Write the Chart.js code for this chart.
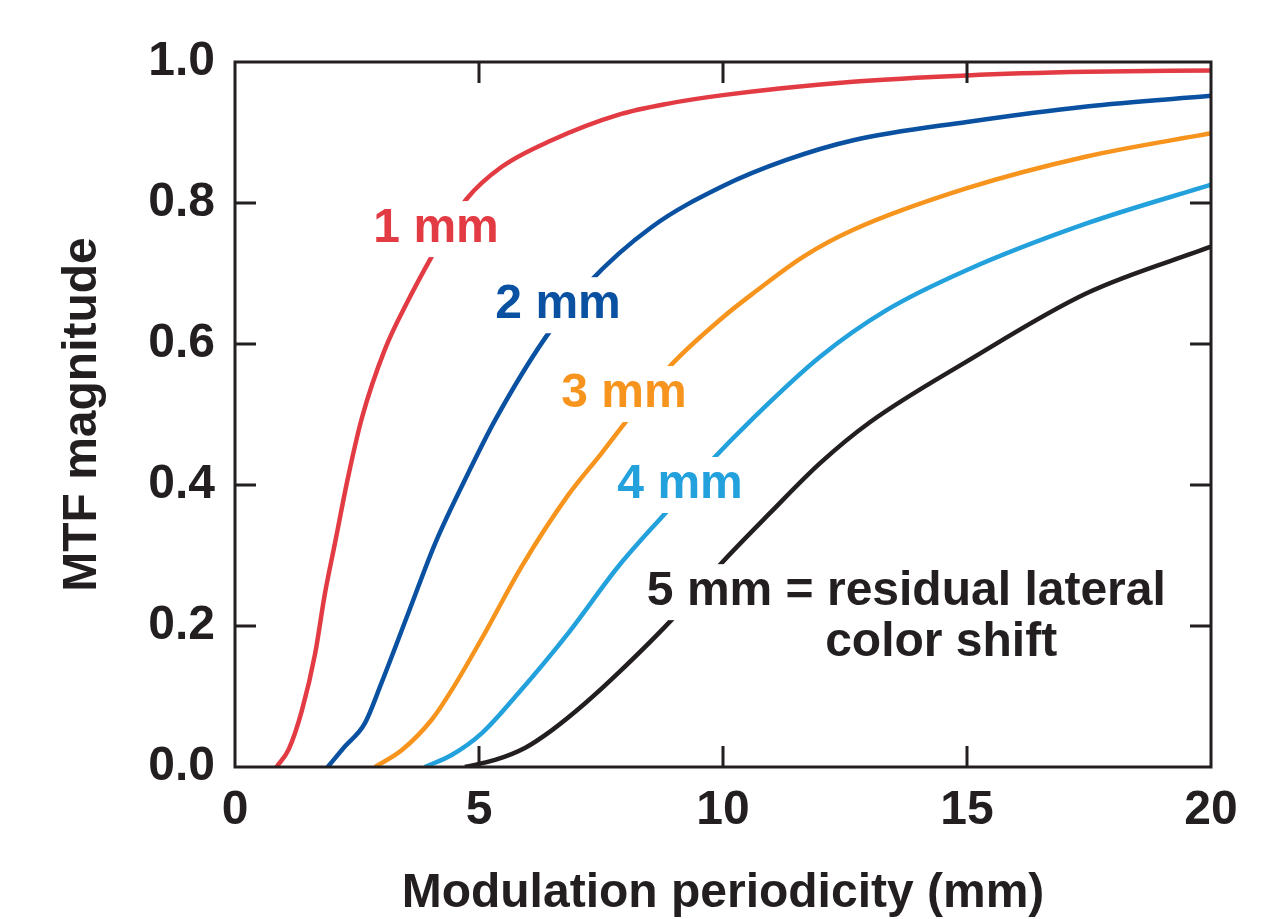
<!DOCTYPE html>
<html>
<head>
<meta charset="utf-8">
<script src="https://cdn.jsdelivr.net/npm/chart.js@4.4.1/dist/chart.umd.min.js"></script>
<style>
  body { margin: 0; background: #fff; }
  #wrap { width: 1269px; height: 919px; }
</style>
</head>
<body>
<div id="wrap"><canvas id="mtfChart" width="1269" height="919"></canvas></div>
<script>
// values: modulation periodicity (mm) vs MTF magnitude
const seriesNames = ['1 mm', '2 mm', '3 mm', '4 mm', '5 mm'];

const period1mm = [0.85, 1.1, 1.37, 1.64, 1.84, 2.05, 2.32, 2.6, 3.07, 3.55, 4.03, 4.4, 4.75, 5.46, 6.49, 7.85, 8.88, 10.0, 12.66, 15.0, 17.45, 20.0];
const mtf1mm    = [0.0, 0.025, 0.08, 0.16, 0.245, 0.318, 0.412, 0.495, 0.592, 0.662, 0.724, 0.768, 0.806, 0.851, 0.889, 0.925, 0.941, 0.953, 0.972, 0.981, 0.986, 0.988];

const period2mm = [1.9, 2.25, 2.66, 3.0, 3.55, 4.1, 4.78, 5.33, 6.35, 7.24, 8.54, 10.0, 11.3, 12.67, 15.0, 17.45, 20.0];
const mtf2mm    = [0.0, 0.029, 0.062, 0.119, 0.218, 0.317, 0.417, 0.492, 0.608, 0.686, 0.766, 0.824, 0.861, 0.889, 0.915, 0.937, 0.952];

const period3mm = [2.87, 3.42, 4.03, 4.44, 5.12, 5.87, 6.83, 7.51, 7.99, 8.88, 10.0, 10.62, 11.65, 12.67, 15.0, 17.45, 20.0];
const mtf3mm    = [0.0, 0.024, 0.067, 0.109, 0.19, 0.284, 0.386, 0.445, 0.488, 0.566, 0.638, 0.672, 0.724, 0.762, 0.821, 0.866, 0.899];

const period4mm = [3.89, 4.44, 5.06, 5.81, 6.83, 7.85, 8.88, 9.77, 10.62, 11.99, 13.35, 15.0, 17.45, 20.0];
const mtf4mm    = [0.0, 0.017, 0.048, 0.105, 0.19, 0.284, 0.365, 0.435, 0.495, 0.582, 0.648, 0.705, 0.771, 0.826];

const period5mm = [4.71, 5.33, 5.94, 6.49, 7.17, 7.85, 8.95, 9.94, 10.96, 11.99, 13.01, 14.99, 17.45, 20.0];
const mtf5mm    = [0.0, 0.01, 0.027, 0.052, 0.09, 0.133, 0.209, 0.287, 0.36, 0.431, 0.489, 0.575, 0.672, 0.738];

const xTickValues = [0, 5, 10, 15, 20];
const yTickValues = [0, 0.2, 0.4, 0.6, 0.8, 1.0];

const lineColors = ['#e23b43', '#0a51a1', '#f7941e', '#23a1dc', '#231f20'];
const ink = '#231f20';
const fontFamily = "'Liberation Sans', Arial, Helvetica, sans-serif";

// in-plot curve labels (text, anchor in data units, alignment, colour)
const curveNotes = [
    { text: '1 mm', x: 4.12, y: 0.763, align: 'center', color: lineColors[0] },
    { text: '2 mm', x: 6.62, y: 0.655, align: 'center', color: lineColors[1] },
    { text: '3 mm', x: 7.97, y: 0.529, align: 'center', color: lineColors[2] },
    { text: '4 mm', x: 9.12, y: 0.400, align: 'center', color: lineColors[3] },
    { text: '5 mm = residual lateral', x: 8.44, y: 0.248, align: 'left', color: lineColors[4] },
    { text: 'color shift', x: 14.47, y: 0.176, align: 'center', color: lineColors[4] }
];

function toPoints(xs, ys) {
    return xs.map((x, i) => ({ x: x, y: ys[i] }));
}

const allSeries = [
    toPoints(period1mm, mtf1mm),
    toPoints(period2mm, mtf2mm),
    toPoints(period3mm, mtf3mm),
    toPoints(period4mm, mtf4mm),
    toPoints(period5mm, mtf5mm)
];

// frame box plus inward tick marks on all four sides
const frameTicks = {
    id: 'frameTicks',
    afterDatasetsDraw(chart) {
        const { ctx, chartArea: a, scales: { x, y } } = chart;
        const len = 21;
        ctx.save();
        ctx.strokeStyle = ink;
        ctx.lineWidth = 3;
        ctx.beginPath();
        xTickValues.slice(1, -1).forEach(v => {
            const px = x.getPixelForValue(v);
            ctx.moveTo(px, a.bottom); ctx.lineTo(px, a.bottom - len);
            ctx.moveTo(px, a.top); ctx.lineTo(px, a.top + len);
        });
        yTickValues.slice(1, -1).forEach(v => {
            const py = y.getPixelForValue(v);
            ctx.moveTo(a.left, py); ctx.lineTo(a.left + len, py);
            ctx.moveTo(a.right, py); ctx.lineTo(a.right - len, py);
        });
        ctx.stroke();
        ctx.strokeRect(a.left, a.top, a.right - a.left, a.bottom - a.top);
        ctx.restore();
    }
};

// labels knocked out of the curves with a white box
const curveLabels = {
    id: 'curveLabels',
    afterDatasetsDraw(chart) {
        const { ctx, scales: { x, y } } = chart;
        ctx.save();
        ctx.font = `bold 48px ${fontFamily}`;
        ctx.textBaseline = 'middle';
        for (const note of curveNotes) {
            const px = x.getPixelForValue(note.x);
            const py = y.getPixelForValue(note.y);
            const w = ctx.measureText(note.text).width;
            const left = note.align === 'center' ? px - w / 2 : px;
            ctx.fillStyle = '#fff';
            ctx.fillRect(left - 8, py - 28, w + 16, 56);
        }
        for (const note of curveNotes) {
            const px = x.getPixelForValue(note.x);
            const py = y.getPixelForValue(note.y);
            ctx.textAlign = note.align;
            ctx.fillStyle = note.color;
            ctx.fillText(note.text, px, py);
        }
        ctx.restore();
    }
};

const tickFont = { family: fontFamily, size: 48, weight: 'bold' };

new Chart(document.getElementById('mtfChart').getContext('2d'), {
    type: 'line',
    data: {
        datasets: allSeries.map((pts, i) => ({
            label: seriesNames[i],
            data: pts,
            borderColor: lineColors[i],
            borderWidth: 4.5,
            pointRadius: 0,
            cubicInterpolationMode: 'monotone',
            fill: false
        }))
    },
    options: {
        responsive: false,
        animation: false,
        layout: { padding: { top: 62, right: 58, left: 0, bottom: 0 } },
        plugins: { legend: { display: false }, tooltip: { enabled: false } },
        scales: {
            x: {
                type: 'linear',
                min: 0,
                max: 20,
                afterBuildTicks: s => { s.ticks = xTickValues.map(v => ({ value: v })); },
                afterFit: s => { s.height = 152; },
                grid: { display: false, drawTicks: false },
                border: { display: false },
                ticks: { font: tickFont, color: ink, padding: 15, maxRotation: 0, autoSkip: false, callback: v => String(v) },
                title: {
                    display: true,
                    text: 'Modulation periodicity (mm)',
                    color: ink,
                    font: { family: fontFamily, size: 48, weight: 'bold', lineHeight: 1 },
                    padding: { top: 0, bottom: 1 }
                }
            },
            y: {
                type: 'linear',
                min: 0,
                max: 1,
                afterBuildTicks: s => { s.ticks = yTickValues.map(v => ({ value: v })); },
                afterFit: s => { s.width = 235; },
                grid: { display: false, drawTicks: false },
                border: { display: false },
                ticks: { font: tickFont, color: ink, padding: 20, autoSkip: false, callback: v => v.toFixed(1) },
                title: {
                    display: true,
                    text: 'MTF magnitude',
                    color: ink,
                    font: { family: fontFamily, size: 48, weight: 'bold', lineHeight: 1 },
                    padding: { top: 59, bottom: 0 }
                }
            }
        }
    },
    plugins: [frameTicks, curveLabels]
});
</script>
</body>
</html>
